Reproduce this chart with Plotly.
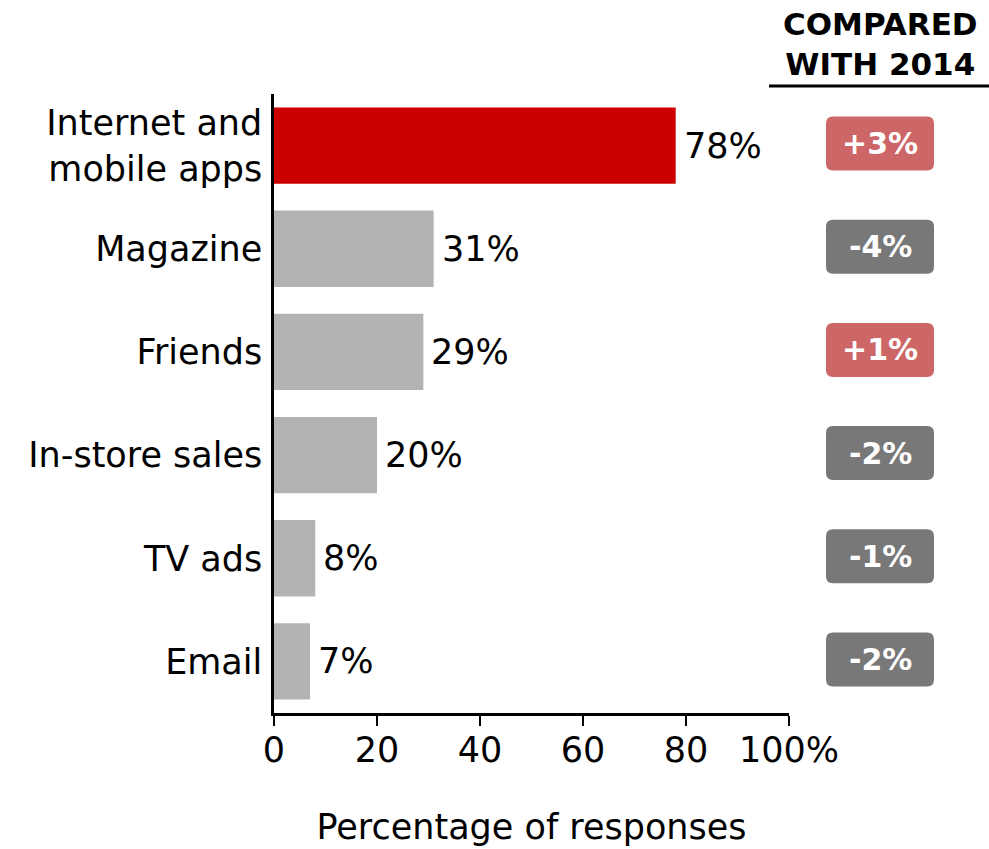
import plotly.graph_objects as go

# Survey data
categories = ["Internet and<br>mobile apps", "Magazine", "Friends",
              "In-store sales", "TV ads", "Email"]
shares = [78, 31, 29, 20, 8, 7]
change_vs_2014 = [3, -4, 1, -2, -1, -2]
x_ticks = [0, 20, 40, 60, 80, 100]
x_tick_labels = ["0", "20", "40", "60", "80", "100%"]

FONT = "DejaVu Sans, Verdana, sans-serif"
HIGHLIGHT = "#cc0000"
MUTED = "#b3b3b3"
UP_BADGE = "#cd6666"
DOWN_BADGE = "#787878"

W, H = 989, 849
M_L, M_R, M_T, M_B = 274, 200, 94, 136
plot_w = W - M_L - M_R
plot_h = H - M_T - M_B

bar_colors = [HIGHLIGHT] + [MUTED] * (len(categories) - 1)

fig = go.Figure(go.Bar(
    x=shares,
    y=categories,
    orientation="h",
    marker=dict(color=bar_colors, line=dict(width=0)),
    width=0.74,
    hoverinfo="skip",
))

annotations = []

# Value labels just past the end of each bar
for cat, v in zip(categories, shares):
    annotations.append(dict(
        xref="x", yref="y", x=v, y=cat,
        text=f"{v}%", showarrow=False,
        xanchor="left", yanchor="middle", xshift=6,
        font=dict(family=FONT, size=35, color="black"),
    ))

# Change badges in the right-hand column
n = len(categories)
badge_cx = (880 - M_L) / plot_w
bw = 108 / plot_w
bh = 54 / plot_h
rx = 7 / plot_w
ry = 7 / plot_h
shapes = []
for i, d in enumerate(change_vs_2014):
    cy = 1 - (i + 0.5) / n + 2 / plot_h
    x0, x1 = badge_cx - bw / 2, badge_cx + bw / 2
    y0, y1 = cy - bh / 2, cy + bh / 2
    path = (
        f"M {x0 + rx},{y0} L {x1 - rx},{y0} Q {x1},{y0} {x1},{y0 + ry} "
        f"L {x1},{y1 - ry} Q {x1},{y1} {x1 - rx},{y1} "
        f"L {x0 + rx},{y1} Q {x0},{y1} {x0},{y1 - ry} "
        f"L {x0},{y0 + ry} Q {x0},{y0} {x0 + rx},{y0} Z"
    )
    shapes.append(dict(
        type="path", xref="paper", yref="paper", path=path,
        fillcolor=UP_BADGE if d > 0 else DOWN_BADGE,
        line=dict(width=0), layer="above",
    ))
    annotations.append(dict(
        xref="paper", yref="paper", x=badge_cx, y=cy,
        text=f"<b>{d:+d}%</b>", showarrow=False,
        xanchor="center", yanchor="middle",
        font=dict(family=FONT, size=30, color="white"),
    ))

# Column header with underline
annotations.append(dict(
    xref="paper", yref="paper", x=badge_cx, y=(M_T + plot_h - 44) / plot_h,
    text="<b>COMPARED<br>WITH 2014</b>", showarrow=False,
    xanchor="center", yanchor="middle",
    font=dict(family=FONT, size=31, color="black"),
))
shapes.append(dict(
    type="line", xref="paper", yref="paper",
    x0=(769 - M_L) / plot_w, x1=(W - M_L) / plot_w,
    y0=(M_T + plot_h - 86) / plot_h, y1=(M_T + plot_h - 86) / plot_h,
    line=dict(color="black", width=3),
))

fig.update_layout(
    width=W, height=H,
    margin=dict(l=M_L, r=M_R, t=M_T, b=M_B),
    paper_bgcolor="white", plot_bgcolor="white",
    showlegend=False,
    font=dict(family=FONT, color="black"),
    shapes=shapes,
    annotations=annotations,
)
fig.update_xaxes(
    range=[0, 100],
    tickvals=x_ticks, ticktext=x_tick_labels,
    tickfont=dict(size=35),
    ticks="outside", ticklen=10, tickwidth=2, tickcolor="black",
    ticklabelstandoff=-6,
    showline=True, linecolor="black", linewidth=2.5,
    showgrid=False, zeroline=False,
    automargin=False,
    title=dict(text="Percentage of responses", font=dict(size=35), standoff=46),
)
fig.update_yaxes(
    autorange="reversed",
    tickfont=dict(size=35),
    ticks="", ticklabelstandoff=2,
    showline=True, linecolor="black", linewidth=2.5,
    showgrid=False, zeroline=False,
)

fig.write_html("out.html")
